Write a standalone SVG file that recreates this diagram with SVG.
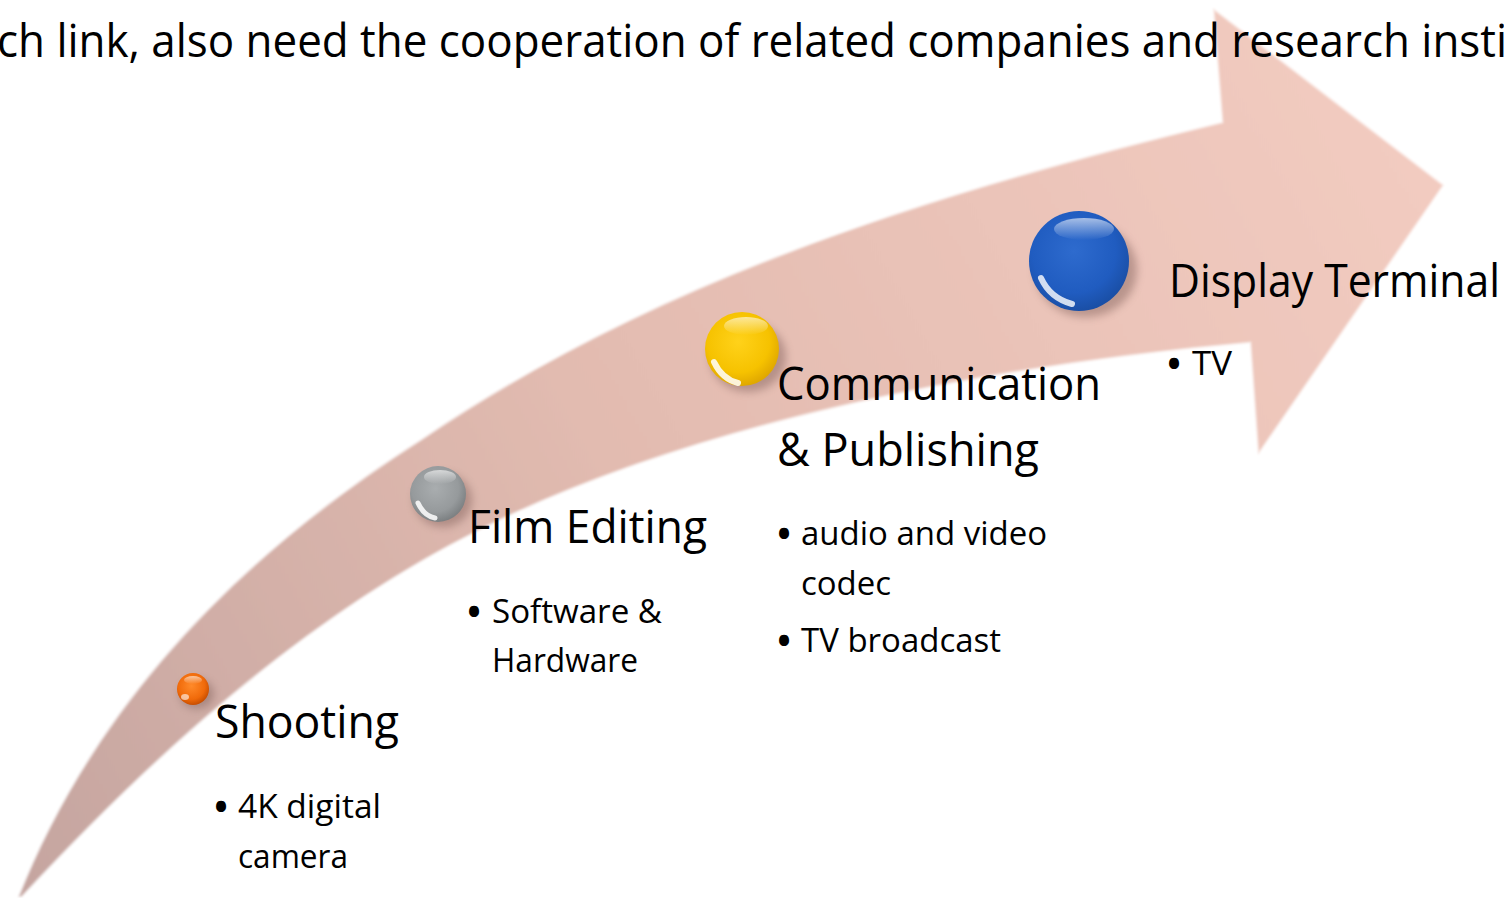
<svg xmlns="http://www.w3.org/2000/svg" width="1504" height="898" viewBox="0 0 1504 898">
<defs>
<style>
text{font-family:"Open Sans","Noto Sans","DejaVu Sans",sans-serif;fill:#000}
.top{font-size:46px}
.h{font-size:46px}
.b{font-size:33px}
.bu{font-size:48px}
</style>
<linearGradient id="arrowG" gradientUnits="userSpaceOnUse" x1="20" y1="897" x2="1440" y2="120">
<stop offset="0" stop-color="#C5A5A0"/>
<stop offset="0.45" stop-color="#E2BBB0"/>
<stop offset="1" stop-color="#F3CCC1"/>
</linearGradient>
<filter id="soft" x="-10%" y="-10%" width="120%" height="120%">
<feGaussianBlur stdDeviation="1.2"/>
</filter>
<filter id="sh" x="-50%" y="-50%" width="200%" height="200%">
<feGaussianBlur stdDeviation="4"/>
</filter>
<radialGradient id="gOr" cx="0.45" cy="0.4" r="0.6">
<stop offset="0" stop-color="#FF8A2A"/>
<stop offset="0.7" stop-color="#F06A0A"/>
<stop offset="1" stop-color="#C84E00"/>
</radialGradient>
<radialGradient id="gGr" cx="0.45" cy="0.4" r="0.6">
<stop offset="0" stop-color="#A9ADAF"/>
<stop offset="0.7" stop-color="#969A9C"/>
<stop offset="1" stop-color="#7C8082"/>
</radialGradient>
<radialGradient id="gYe" cx="0.45" cy="0.4" r="0.6">
<stop offset="0" stop-color="#FFD21A"/>
<stop offset="0.7" stop-color="#F6C200"/>
<stop offset="1" stop-color="#E0A800"/>
</radialGradient>
<radialGradient id="gBl" cx="0.45" cy="0.4" r="0.6">
<stop offset="0" stop-color="#2E6BCE"/>
<stop offset="0.7" stop-color="#205CC0"/>
<stop offset="1" stop-color="#1A4FA6"/>
</radialGradient>
<linearGradient id="hl" x1="0" y1="0" x2="0" y2="1">
<stop offset="0" stop-color="#fff" stop-opacity="0.6"/>
<stop offset="1" stop-color="#fff" stop-opacity="0"/>
</linearGradient>
</defs>
<rect width="1504" height="898" fill="#fff"/>
<g id="arrow">
<path d="M18,897 C80,740 200,580 420,440 C640,290 900,200 1222,122 L1213,8 L1444,185 L1258,455 L1250,343 C1000,365 700,420 480,530 C300,620 150,760 22,897 Z" fill="url(#arrowG)" stroke="#fff" stroke-opacity="0.55" stroke-width="3" filter="url(#soft)"/>
</g>
<text class="top" x="-3" y="57" textLength="1510" lengthAdjust="spacingAndGlyphs">ch link, also need the cooperation of related companies and research insti</text>
<g id="connectors"></g>
<g id="shooting">
<ellipse cx="197" cy="694" rx="17" ry="15" fill="#7a5a55" opacity="0.45" filter="url(#sh)"/>
<circle cx="193" cy="689" r="16" fill="url(#gOr)"/>
<ellipse cx="193" cy="680" rx="9" ry="4" fill="url(#hl)"/>
<ellipse cx="185" cy="697" rx="4" ry="3" fill="#fff" opacity="0.6"/>
<text class="h" x="215" y="738" textLength="184" lengthAdjust="spacingAndGlyphs">Shooting</text>
<text class="bu" x="212" y="824">•</text>
<text class="b" x="238" y="818" textLength="143" lengthAdjust="spacingAndGlyphs">4K digital</text>
<text class="b" x="238" y="868" textLength="110" lengthAdjust="spacingAndGlyphs">camera</text>
</g>
<g id="film-editing">
<ellipse cx="443" cy="500" rx="29" ry="27" fill="#7a5a55" opacity="0.45" filter="url(#sh)"/>
<circle cx="438" cy="494" r="28" fill="url(#gGr)"/>
<ellipse cx="440" cy="477" rx="16" ry="7" fill="url(#hl)"/>
<path d="M418,503 Q424,516 435,518" stroke="#fff" stroke-width="5" fill="none" stroke-linecap="round" opacity="0.85"/>
<text class="h" x="468" y="543" textLength="239" lengthAdjust="spacingAndGlyphs">Film Editing</text>
<text class="bu" x="465" y="629">•</text>
<text class="b" x="492" y="623" textLength="170" lengthAdjust="spacingAndGlyphs">Software &amp;</text>
<text class="b" x="492" y="672" textLength="146" lengthAdjust="spacingAndGlyphs">Hardware</text>
</g>
<g id="communication">
<ellipse cx="748" cy="357" rx="38" ry="35" fill="#7a5a55" opacity="0.45" filter="url(#sh)"/>
<circle cx="742" cy="349" r="37" fill="url(#gYe)"/>
<ellipse cx="746" cy="326" rx="22" ry="9" fill="url(#hl)"/>
<path d="M714,362 Q722,379 738,383" stroke="#fff" stroke-width="6" fill="none" stroke-linecap="round" opacity="0.85"/>
<text class="h" x="777" y="400" textLength="324" lengthAdjust="spacingAndGlyphs">Communication</text>
<text class="h" x="777" y="466" textLength="262" lengthAdjust="spacingAndGlyphs">&amp; Publishing</text>
<text class="bu" x="775" y="551">•</text>
<text class="b" x="801" y="545" textLength="246" lengthAdjust="spacingAndGlyphs">audio and video</text>
<text class="b" x="801" y="595" textLength="90" lengthAdjust="spacingAndGlyphs">codec</text>
<text class="bu" x="775" y="658">•</text>
<text class="b" x="801" y="652" textLength="200" lengthAdjust="spacingAndGlyphs">TV broadcast</text>
</g>
<g id="display-terminal">
<ellipse cx="1086" cy="270" rx="51" ry="47" fill="#7a5a55" opacity="0.45" filter="url(#sh)"/>
<circle cx="1079" cy="261" r="50" fill="url(#gBl)"/>
<ellipse cx="1084" cy="229" rx="30" ry="11" fill="url(#hl)"/>
<path d="M1041,278 Q1050,298 1072,304" stroke="#fff" stroke-width="6" fill="none" stroke-linecap="round" opacity="0.8"/>
<text class="h" x="1169" y="297" textLength="331" lengthAdjust="spacingAndGlyphs">Display Terminal</text>
<text class="bu" x="1165" y="381">•</text>
<text class="b" x="1192" y="375" textLength="40" lengthAdjust="spacingAndGlyphs">TV</text>
</g>
</svg>
